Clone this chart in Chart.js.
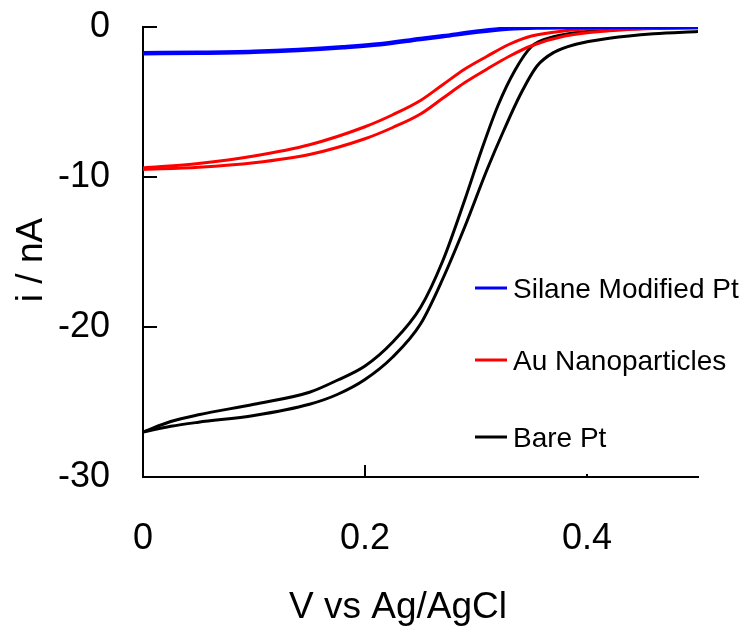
<!DOCTYPE html>
<html>
<head>
<meta charset="utf-8">
<script src="https://cdn.jsdelivr.net/npm/chart.js@4.4.1/dist/chart.umd.min.js"></script>
<style>
  html, body { margin: 0; padding: 0; background: #fff; }
  #wrap { width: 751px; height: 628px; }
</style>
</head>
<body>
<div id="wrap"><canvas id="c" width="751" height="628"></canvas></div>
<script>
// ---- data (V vs Ag/AgCl, current in nA) ----
const xTickValues = [0, 0.2, 0.4];
const yTickValues = [0, -10, -20, -30];
const xTitle = "V vs Ag/AgCl";
const yTitle = "i / nA";
const legendLabels = ["Silane Modified Pt", "Au Nanoparticles", "Bare Pt"];

const V_silane = [0, 0.05, 0.1, 0.14, 0.18, 0.2135, 0.25, 0.27, 0.3, 0.33, 0.36, 0.4, 0.5];
const I_silane = [-1.75, -1.72, -1.65, -1.53, -1.35, -1.15, -0.8, -0.62, -0.32, -0.1, -0.03, 0, 0];

const V_au_a = [0, 0.05, 0.1, 0.15, 0.2, 0.225, 0.25, 0.27, 0.29, 0.31, 0.33, 0.35, 0.38, 0.42, 0.5];
const I_au_a = [-9.4, -9.1, -8.6, -7.85, -6.65, -5.85, -4.9, -3.85, -2.8, -1.95, -1.15, -0.6, -0.25, -0.08, 0];
const V_au_b = [0, 0.05, 0.1, 0.15, 0.2, 0.225, 0.25, 0.27, 0.29, 0.31, 0.33, 0.35, 0.38, 0.42, 0.46, 0.5];
const I_au_b = [-9.5, -9.35, -9.05, -8.5, -7.45, -6.7, -5.8, -4.75, -3.7, -2.8, -1.95, -1.25, -0.6, -0.25, -0.1, -0.05];

const V_pt_a = [0, 0.025, 0.05, 0.1, 0.15, 0.175, 0.2, 0.225, 0.25, 0.27, 0.29, 0.305, 0.32, 0.335, 0.35, 0.37, 0.4, 0.45, 0.5];
const I_pt_a = [-27.0, -26.3, -25.85, -25.15, -24.35, -23.55, -22.6, -21.0, -18.7, -15.6, -11.5, -8.2, -5.2, -2.9, -1.3, -0.65, -0.3, -0.1, -0.02];
const V_pt_b = [0, 0.025, 0.05, 0.1, 0.15, 0.175, 0.2, 0.225, 0.25, 0.27, 0.29, 0.31, 0.325, 0.34, 0.355, 0.37, 0.39, 0.42, 0.46, 0.5];
const I_pt_b = [-27.0, -26.62, -26.35, -25.9, -25.15, -24.5, -23.5, -22.0, -19.8, -16.8, -13.3, -9.5, -6.9, -4.5, -2.6, -1.7, -1.15, -0.75, -0.45, -0.3];

// ---- helpers ----
const pts = (vs, is) => vs.map((v, k) => ({ x: v, y: is[k] }));
const FONT = "'Liberation Sans', Arial, Helvetica, sans-serif";
const colors = { silane: "#0000ff", au: "#ff0000", pt: "#000000" };

function ds(label, vs, is, color, width) {
  return {
    label: label,
    data: pts(vs, is),
    borderColor: color,
    backgroundColor: color,
    borderWidth: width,
    pointRadius: 0,
    fill: false,
    cubicInterpolationMode: "monotone"
  };
}

const decorPlugin = {
  id: "decor",
  afterDraw(chart) {
    const ctx = chart.ctx;
    const xs = chart.scales.x, ys = chart.scales.y;
    const area = chart.chartArea;
    ctx.save();
    ctx.strokeStyle = "#000";
    ctx.lineWidth = 2;
    // inward y ticks
    yTickValues.forEach(v => {
      if (v === -30) return;
      const py = Math.round(ys.getPixelForValue(v));
      ctx.beginPath();
      ctx.moveTo(area.left, py);
      ctx.lineTo(area.left + 14, py);
      ctx.stroke();
    });
    // inward x ticks
    xTickValues.forEach(v => {
      if (v === 0) return;
      const px = Math.round(xs.getPixelForValue(v));
      const len = v > 0.3 ? 3 : 12;
      ctx.beginPath();
      ctx.moveTo(px, area.bottom);
      ctx.lineTo(px, area.bottom - len);
      ctx.stroke();
    });
    // legend
    const legendColors = [colors.silane, colors.au, colors.pt];
    const legendY = [288, 360, 437];
    ctx.font = "28px " + FONT;
    ctx.textBaseline = "middle";
    ctx.textAlign = "left";
    legendLabels.forEach((lab, k) => {
      ctx.strokeStyle = legendColors[k];
      ctx.lineWidth = 3;
      ctx.beginPath();
      ctx.moveTo(475, legendY[k]);
      ctx.lineTo(507, legendY[k]);
      ctx.stroke();
      ctx.fillStyle = "#000";
      ctx.fillText(lab, 513, legendY[k] + 2);
    });
    // axis titles
    ctx.fillStyle = "#000";
    ctx.font = "37px " + FONT;
    ctx.textAlign = "center";
    ctx.textBaseline = "alphabetic";
    ctx.fillText(xTitle, 398, 618);
    ctx.translate(42, 260);
    ctx.rotate(-Math.PI / 2);
    ctx.fillText(yTitle, 0, 0);
    ctx.restore();
  }
};

new Chart(document.getElementById("c"), {
  type: "line",
  data: {
    datasets: [
      ds(legendLabels[0], V_silane, I_silane, colors.silane, 4.5),
      ds(legendLabels[1], V_au_a, I_au_a, colors.au, 3),
      ds(legendLabels[1], V_au_b, I_au_b, colors.au, 3),
      ds(legendLabels[2], V_pt_a, I_pt_a, colors.pt, 3),
      ds(legendLabels[2], V_pt_b, I_pt_b, colors.pt, 3)
    ]
  },
  options: {
    responsive: false,
    animation: false,
    devicePixelRatio: 1,
    layout: { padding: { top: 27, right: 53, left: 0, bottom: 0 } },
    plugins: { legend: { display: false }, tooltip: { enabled: false } },
    scales: {
      x: {
        type: "linear",
        min: 0,
        max: 0.5,
        afterBuildTicks: s => { s.ticks = xTickValues.map(v => ({ value: v })); },
        afterFit: s => { s.height = 151; s.paddingLeft = 0; s.paddingRight = 0; },
        grid: { drawOnChartArea: false, drawTicks: false },
        border: { display: true, color: "#000", width: 2 },
        ticks: {
          color: "#000",
          font: { size: 36, family: FONT },
          padding: 40,
          maxRotation: 0,
          callback: v => String(v)
        }
      },
      y: {
        type: "linear",
        min: -30,
        max: 0,
        afterBuildTicks: s => { s.ticks = yTickValues.map(v => ({ value: v })); },
        afterFit: s => { s.width = 143; s.paddingTop = 0; s.paddingBottom = 0; },
        grid: { drawOnChartArea: false, drawTicks: false },
        border: { display: true, color: "#000", width: 2 },
        ticks: {
          color: "#000",
          font: { size: 36, family: FONT },
          padding: 33,
          callback: v => String(v)
        }
      }
    }
  },
  plugins: [decorPlugin]
});
</script>
</body>
</html>
